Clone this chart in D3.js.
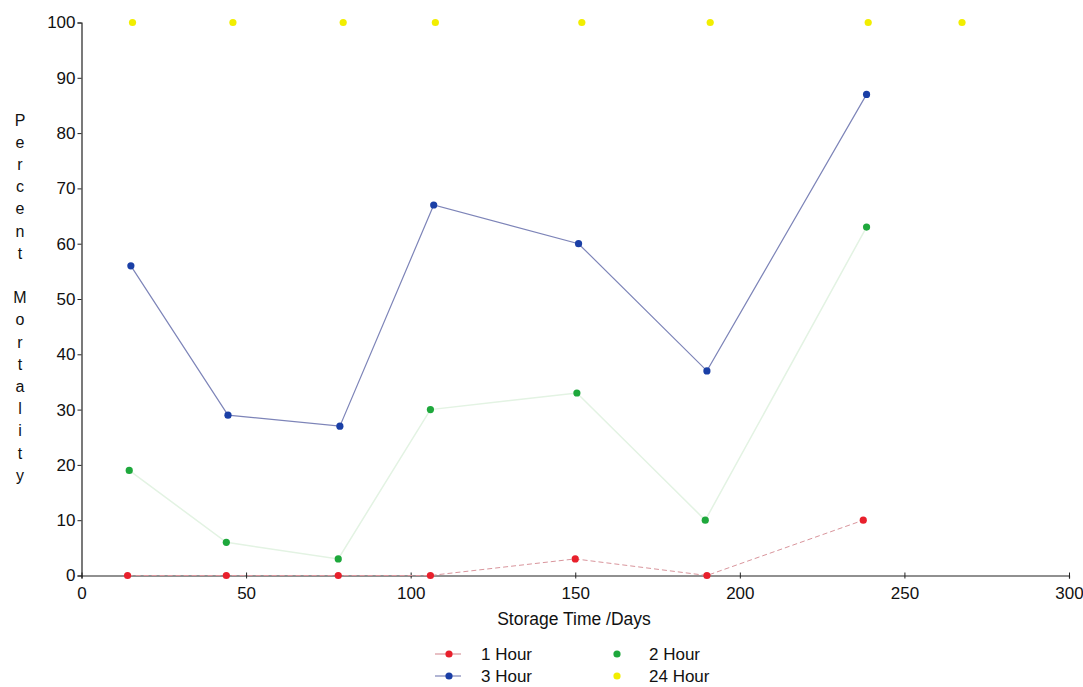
<!DOCTYPE html>
<html>
<head>
<meta charset="utf-8">
<script src="https://cdn.jsdelivr.net/npm/d3@7"></script>
<style>
  html, body { margin: 0; padding: 0; background: #fff; }
  svg { display: block; }
  text { font-family: "Liberation Sans", Arial, sans-serif; fill: #111; }
</style>
</head>
<body>
<svg id="chart" width="1083" height="687"></svg>
<script>
// Storage time (days) and percent mortality for each exposure period
const days1h  = [14, 44, 78, 106, 150, 190, 237.5];
const mort1h  = [0, 0, 0, 0, 3, 0, 10];

const days2h  = [14.5, 44, 78, 106, 150.5, 189.5, 238.5];
const mort2h  = [19, 6, 3, 30, 33, 10, 63];

const days3h  = [15, 44.5, 78.5, 107, 151, 190, 238.5];
const mort3h  = [56, 29, 27, 67, 60, 37, 87];

const days24h = [15.5, 46, 79.5, 107.5, 152, 191, 239, 267.5];
const mort24h = [100, 100, 100, 100, 100, 100, 100, 100];

const xTicks = [0, 50, 100, 150, 200, 250, 300];
const yTicks = [0, 10, 20, 30, 40, 50, 60, 70, 80, 90, 100];

const yTitle = "Percent Mortality";
const xTitle = "Storage Time /Days";

const series = [
  { name: "1 Hour",  x: days1h,  y: mort1h,  dot: "#e8202c", line: "#d9959c", dash: "5,3", width: 1,   legendLine: true },
  { name: "2 Hour",  x: days2h,  y: mort2h,  dot: "#1ea83c", line: "#e3f3e3", dash: null,  width: 1.5, legendLine: false },
  { name: "3 Hour",  x: days3h,  y: mort3h,  dot: "#1a3fa6", line: "#7d84b8", dash: null,  width: 1.2, legendLine: true },
  { name: "24 Hour", x: days24h, y: mort24h, dot: "#f2ee00", line: null,      dash: null,  width: 0,   legendLine: false }
];

const svg = d3.select("#chart");
const x = d3.scaleLinear().domain([0, 300]).range([81.5, 1069]);
const y = d3.scaleLinear().domain([0, 100]).range([575.5, 22.5]);

// axes
const gx = svg.append("g").attr("transform", `translate(0,${y(0)})`)
  .call(d3.axisBottom(x).tickValues(xTicks).tickSize(3).tickPadding(6));
gx.selectAll(".tick line").attr("y1", -3).attr("y2", 3);
const gy = svg.append("g").attr("transform", `translate(${x(0)},0)`)
  .call(d3.axisLeft(y).tickValues(yTicks).tickSize(4).tickPadding(2));

[gx, gy].forEach(g => {
  g.select(".domain").attr("stroke", "#222").attr("stroke-width", 1.2);
  g.selectAll(".tick line").attr("stroke", "#222");
  g.selectAll(".tick text").attr("font-size", 17).attr("font-family", "Liberation Sans, Arial, sans-serif").attr("fill", "#111");
});
gx.selectAll(".tick text").attr("dy", "0.85em");

// lines
const lineGen = (s) => d3.line().x((d, i) => x(s.x[i])).y(d => y(d));
series.filter(s => s.line).forEach(s => {
  svg.append("path")
    .datum(s.y)
    .attr("d", lineGen(s))
    .attr("fill", "none")
    .attr("stroke", s.line)
    .attr("stroke-width", s.width)
    .attr("stroke-dasharray", s.dash);
});

// markers
series.forEach(s => {
  svg.append("g").selectAll("circle")
    .data(s.y)
    .join("circle")
    .attr("cx", (d, i) => x(s.x[i]))
    .attr("cy", d => y(d))
    .attr("r", 3.6)
    .attr("fill", s.dot);
});

// vertical y-axis title, one letter per line
const letters = yTitle.split("");
svg.append("g").selectAll("text")
  .data(letters)
  .join("text")
  .attr("x", 20)
  .attr("y", (d, i) => 120 + i * 22.2)
  .attr("dy", "0.35em")
  .attr("text-anchor", "middle")
  .attr("font-size", 16)
  .text(d => d);

// x-axis title
svg.append("text")
  .attr("x", 574)
  .attr("y", 619)
  .attr("dy", "0.35em")
  .attr("text-anchor", "middle")
  .attr("font-size", 17.5)
  .text(xTitle);

// legend: two columns, two rows
const legendPos = [
  { col: 0, row: 0 }, { col: 1, row: 0 }, { col: 0, row: 1 }, { col: 1, row: 1 }
];
const colX = [449, 617];
const rowY = [654, 676];
series.forEach((s, i) => {
  const p = legendPos[i];
  const cx = colX[p.col], cy = rowY[p.row];
  const g = svg.append("g");
  if (s.legendLine) {
    g.append("line").attr("x1", cx - 14).attr("x2", cx + 12)
      .attr("y1", cy).attr("y2", cy)
      .attr("stroke", s.line).attr("stroke-width", 1.2);
  }
  g.append("circle").attr("cx", cx).attr("cy", cy).attr("r", 3.6).attr("fill", s.dot);
  g.append("text").attr("x", cx + 32).attr("y", cy).attr("dy", "0.35em")
    .attr("font-size", 17).text(s.name);
});
</script>
</body>
</html>
